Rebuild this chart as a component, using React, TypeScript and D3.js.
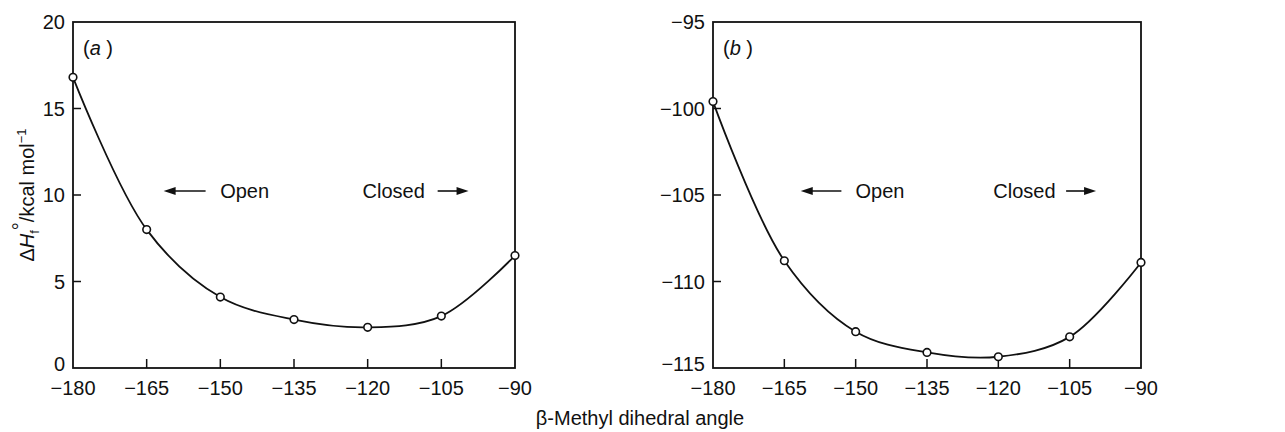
import React from "react"
import * as d3 from "d3"

const angles = [ -180, -165, -150, -135, -120, -105, -90 ]
const enthalpyA = [ 16.8, 8.0, 4.1, 2.8, 2.35, 3.0, 6.5 ]
const enthalpyB = [ -99.6, -108.8, -112.9, -114.1, -114.35, -113.2, -108.9 ]
const xTicks = [ -180, -165, -150, -135, -120, -105, -90 ]
const yTicksA = [ 0, 5, 10, 15, 20 ]
const yTicksB = [ -115, -110, -105, -100, -95 ]

const W = 1285
const H = 432
const font = "'Liberation Sans', Arial, sans-serif"
const ink = "#111"
const fs = 20

type PanelProps = {
  left: number
  right: number
  values: number[]
  yDomain: [ number, number ]
  yTicks: number[]
  tag: string
}

function Panel( { left, right, values, yDomain, yTicks, tag }: PanelProps ) {
  const top = 22
  const bottom = 368
  const x = d3.scaleLinear().domain( [ -180, -90 ] ).range( [ left, right ] )
  const y = d3.scaleLinear().domain( yDomain ).range( [ bottom, top ] )
  const pts: [ number, number ][] = angles.map( ( a, i ) => [ x( a ), y( values[ i ] ) ] )
  const line = d3.line().curve( d3.curveCatmullRom.alpha( 0.5 ) )( pts ) || ""
  const span = right - left
  const arrowY = 191

  return (
    <g>
      <rect x={left} y={top} width={right - left} height={bottom - top} fill="none" stroke={ink} strokeWidth={1.8} />
      {xTicks.slice( 1, -1 ).map( t => (
        <line key={"xt" + t} x1={x( t )} x2={x( t )} y1={bottom} y2={bottom - 9} stroke={ink} strokeWidth={1.5} />
      ) )}
      {xTicks.map( t => (
        <text key={"xl" + t} x={x( t )} y={395} textAnchor="middle" fontSize={fs} fontFamily={font} fill={ink}>
          {"\u2212" + Math.abs( t )}
        </text>
      ) )}
      {yTicks.slice( 1, -1 ).map( t => (
        <line key={"yt" + t} x1={left} x2={left + 8} y1={y( t )} y2={y( t )} stroke={ink} strokeWidth={1.5} />
      ) )}
      {yTicks.map( ( t, i ) => (
        <text key={"yl" + t} x={left - 8} y={y( t ) + ( i === 0 ? 3 : 7 )} textAnchor="end" fontSize={fs} fontFamily={font} fill={ink}>
          {t < 0 ? "\u2212" + Math.abs( t ) : String( t )}
        </text>
      ) )}
      <text x={left + 10} y={55} fontSize={fs} fontFamily={font} fill={ink}>
        (<tspan fontStyle="italic">{tag}</tspan> )
      </text>
      <path d={line} fill="none" stroke={ink} strokeWidth={1.8} />
      {pts.map( ( p, i ) => (
        <circle key={"c" + i} cx={p[ 0 ]} cy={p[ 1 ]} r={3.8} fill="#fff" stroke={ink} strokeWidth={1.6} />
      ) )}
      {/* open / closed annotations */}
      <line x1={left + span * 0.225} x2={left + span * 0.3} y1={arrowY} y2={arrowY} stroke={ink} strokeWidth={1.6} />
      <path d={`M${left + span * 0.205},${arrowY} l12,-4 l0,8 z`} fill={ink} />
      <text x={left + span * 0.333} y={arrowY + 7} fontSize={fs} fontFamily={font} fill={ink}>Open</text>
      <text x={left + span * 0.655} y={arrowY + 7} fontSize={fs} fontFamily={font} fill={ink}>Closed</text>
      <line x1={left + span * 0.825} x2={left + span * 0.875} y1={arrowY} y2={arrowY} stroke={ink} strokeWidth={1.6} />
      <path d={`M${left + span * 0.895},${arrowY} l-12,-4 l0,8 z`} fill={ink} />
    </g>
  )
}

export default function App() {
  return (
    <svg width={W} height={H} style={{ position: "absolute", left: 0, top: 0, background: "#fff" }}>
      <Panel left={73} right={515} values={enthalpyA} yDomain={[ 0, 20 ]} yTicks={yTicksA} tag="a" />
      <Panel left={713} right={1141} values={enthalpyB} yDomain={[ -115, -95 ]} yTicks={yTicksB} tag="b" />
      <text transform="translate(34,195) rotate(-90)" textAnchor="middle" fontSize={fs} fontFamily={font} fill={ink}>
        {"\u0394"}<tspan fontStyle="italic">H</tspan><tspan fontSize={13} dy={5}>f</tspan><tspan dy={-12}>°</tspan><tspan dy={7}>/kcal mol</tspan><tspan fontSize={13} dy={-8}>{"\u22121"}</tspan>
      </text>
      <text x={640} y={425} textAnchor="middle" fontSize={fs} fontFamily={font} fill={ink}>
        {"\u03b2-Methyl dihedral angle"}
      </text>
    </svg>
  )
}
